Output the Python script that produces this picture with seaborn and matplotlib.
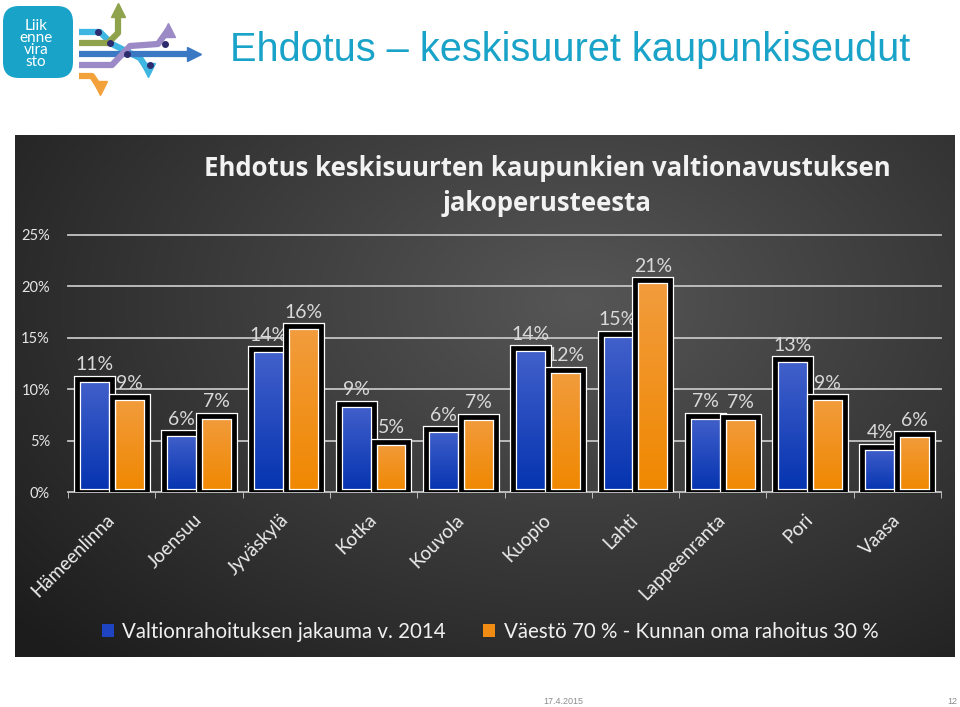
#!/usr/bin/env python3

import numpy as np
import pandas as pd
import seaborn as sns
import matplotlib
matplotlib.use('Agg')
from matplotlib import pyplot as plt
from matplotlib import patheffects as pe
from matplotlib.patches import FancyBboxPatch, Patch
from matplotlib.colors import LinearSegmentedColormap


cities = ['Hämeenlinna', 'Joensuu', 'Jyväskylä', 'Kotka', 'Kouvola',
          'Kuopio', 'Lahti', 'Lappeenranta', 'Pori', 'Vaasa']
valtio_2014 = [11.0, 5.7, 13.9, 8.6, 6.1, 14.0, 15.4, 7.4, 12.9, 4.4]
vaesto_70_30 = [9.2, 7.4, 16.1, 4.9, 7.3, 11.9, 20.6, 7.3, 9.2, 5.6]
series_names = ['Valtionrahoituksen jakauma v. 2014',
                'Väestö 70 % - Kunnan oma rahoitus 30 %']
y_ticks = [0, 5, 10, 15, 20, 25]

W, H = 960, 707
TEAL = '#1aa3c8'
BLUE = '#1f44c2'
ORANGE = '#f08c14'


def fx(x):
    return x / W


def fy(y):
    return 1 - y / H


def draw_logo(fig):
    lax = fig.add_axes([0, fy(100), fx(215), 100 / H])
    lax.set_xlim(0, 215)
    lax.set_ylim(100, 0)
    lax.axis('off')
    lax.add_patch(FancyBboxPatch((3, 6), 70, 72,
                                 boxstyle='round,pad=0,rounding_size=16',
                                 facecolor=TEAL, edgecolor='none'))
    lax.text(36, 44, 'Liik\nenne\nvira\nsto', ha='center', va='center',
             color='white', fontsize=11, linespacing=0.8, family='Lato')
    # coloured route lines with arrow heads
    routes = [
        ('#3fb6e2', [(79, 100, 112, 140, 148), (32, 32, 44, 58, 70)], 'v'),
        ('#8fa24c', [(79, 108, 118, 118), (43, 43, 33, 10)], '^'),
        ('#3b78c4', [(79, 194), (54, 54)], '>'),
        ('#9c8ac6', [(79, 112, 130, 158, 168), (65, 65, 46, 44, 30)], '^'),
        ('#f3a13b', [(79, 92, 100), (76, 76, 88)], 'v'),
    ]
    for color, (xs, ys), head in routes:
        lax.plot(xs, ys, color=color, lw=4.5, solid_capstyle='butt')
        lax.plot(xs[-1], ys[-1], marker=head, color=color, markersize=10)
    lax.plot([98, 110, 127, 150, 165], [32, 43, 54, 65, 44], 'o',
             color='#2c2c6e', markersize=4)


def draw_panel(fig):
    bax = fig.add_axes([fx(15), fy(657), fx(955) - fx(15), (657 - 135) / H])
    yy, xx = np.mgrid[0:1:260j, 0:1:470j]
    d = np.sqrt(((xx - 0.6) / 0.8) ** 2 + ((yy - 0.32) / 0.95) ** 2)
    val = np.clip(1 - d, 0, 1)
    cmap = LinearSegmentedColormap.from_list('panel', ['#1c1c1c', '#565656'])
    bax.imshow(val, cmap=cmap, aspect='auto', extent=[0, 1, 0, 1])
    bax.axis('off')


def main():
    fig = plt.figure(figsize=(W / 100, H / 100), dpi=100, facecolor='white')
    plt.rcParams['font.family'] = ['Lato', 'DejaVu Sans']

    draw_logo(fig)
    fig.text(fx(230), fy(50), 'Ehdotus – keskisuuret kaupunkiseudut',
             fontsize=28.6, color=TEAL, va='center', ha='left',
             family=['Liberation Sans', 'DejaVu Sans'])
    draw_panel(fig)

    fig.text(fx(547), fy(186),
             'Ehdotus keskisuurten kaupunkien valtionavustuksen\njakoperusteesta',
             ha='center', va='center', fontsize=18.5, weight='bold',
             color='#f2f2f2', linespacing=1.35,
             family=['Open Sans', 'DejaVu Sans'])

    ax = fig.add_axes([fx(68), fy(492), (941 - 68) / W, (492 - 235) / H])
    ax.patch.set_alpha(0)

    df = pd.DataFrame({'city': cities * 2,
                       'share': valtio_2014 + vaesto_70_30,
                       'series': [series_names[0]] * len(cities)
                       + [series_names[1]] * len(cities)})
    sns.barplot(data=df, x='city', y='share', hue='series',
                palette=[BLUE, ORANGE], width=0.8, ax=ax, legend=False,
                errorbar=None, zorder=3)

    gradients = [LinearSegmentedColormap.from_list('b', ['#0433b0', '#4361cb']),
                 LinearSegmentedColormap.from_list('o', ['#f08800', '#f29c3e'])]
    grad = np.linspace(0, 1, 100).reshape(-1, 1)[::-1]
    for cont, cmap in zip(ax.containers, gradients):
        for bar in cont:
            x0, w, h = bar.get_x(), bar.get_width(), bar.get_height()
            im = ax.imshow(grad, cmap=cmap, aspect='auto',
                           extent=[x0, x0 + w, 0, h], zorder=3)
            im.set_clip_path(bar)
            bar.set_facecolor('none')
            bar.set_edgecolor('black')
            bar.set_linewidth(3.4)
            bar.set_zorder(4)
            bar.set_path_effects([pe.Stroke(linewidth=5.2, foreground='white'),
                                  pe.Normal()])
        ax.bar_label(cont, fmt='%.0f%%', padding=4, color='#d9d9d9',
                     fontsize=14, clip_on=False)

    ax.set_xlim(-0.5, len(cities) - 0.5)
    ax.set_ylim(0, 25)
    ax.set_yticks(y_ticks)
    ax.set_yticklabels([f'{t}%' for t in y_ticks])
    ax.set_xticks(range(len(cities)))
    ax.set_xticklabels(cities, rotation=45, ha='right', va='center',
                       rotation_mode='anchor')
    ax.set_xticks(np.arange(-0.5, len(cities), 1), minor=True)
    ax.tick_params(axis='x', which='major', length=0, pad=18,
                   labelcolor='#ececec', labelsize=13.5)
    ax.tick_params(axis='x', which='minor', length=4, color='#d0d0d0')
    ax.tick_params(axis='y', length=0, pad=13, labelcolor='#e6e6e6',
                   labelsize=10.5)
    ax.set_xlabel('')
    ax.set_ylabel('')
    ax.grid(axis='y', color='#c4c4c4', lw=1.3)
    ax.grid(axis='x', visible=False)
    ax.set_axisbelow(True)
    for gl in ax.get_ygridlines():
        gl.set_clip_on(False)
    for s in ax.spines.values():
        s.set_visible(False)

    handles = [Patch(facecolor=BLUE), Patch(facecolor=ORANGE)]
    fig.legend(handles, series_names, loc='center', ncol=2,
               bbox_to_anchor=(fx(490), fy(632)), frameon=False,
               fontsize=14.8, labelcolor='#f0f0f0', handlelength=0.6,
               handleheight=0.6, handletextpad=0.4, columnspacing=1.8)

    fig.text(fx(563), fy(702), '17.4.2015', ha='center', va='center',
             fontsize=6.5, color='#8c8c8c', family='Liberation Sans')
    fig.text(fx(952), fy(702), '12', ha='center', va='center',
             fontsize=6.5, color='#8c8c8c', family='Liberation Sans')

    fig.savefig('out.png', dpi=100, facecolor='white')


if __name__ == "__main__":
    main()
